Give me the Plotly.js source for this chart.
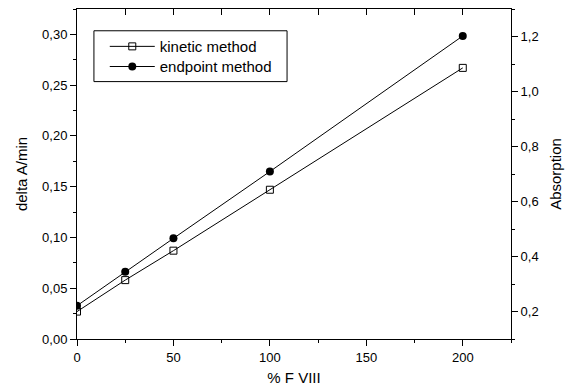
<!DOCTYPE html>
<html>
<head>
<meta charset="utf-8">
<script src="https://cdn.plot.ly/plotly-3.0.1.min.js"></script>
<style>html,body{margin:0;padding:0;background:#fff}#chart{width:567px;height:391px}</style>
</head>
<body>
<div id="chart"></div>
<script>
const percentFVIII = [0, 25, 50, 100, 200];
const kineticDeltaA = [0.027, 0.058, 0.087, 0.147, 0.267];
const endpointAbsorption = [0.221, 0.345, 0.466, 0.709, 1.202];

const FONT = 'Arial, "Liberation Sans", sans-serif';

const traces = [
  {
    x: percentFVIII, y: kineticDeltaA, name: 'kinetic method', legend: 'legend',
    type: 'scatter', mode: 'lines+markers', xaxis: 'x', yaxis: 'y',
    line: {color: '#000', width: 1},
    marker: {symbol: 'square-open', size: 7, color: '#000', line: {width: 1, color: '#000'}}
  },
  {
    x: percentFVIII, y: endpointAbsorption, name: 'endpoint method', legend: 'legend2',
    type: 'scatter', mode: 'lines+markers', xaxis: 'x2', yaxis: 'y2',
    line: {color: '#000', width: 1},
    marker: {symbol: 'circle', size: 8, color: '#000'}
  }
];

const legendBase = {
  xanchor: 'left', yanchor: 'middle',
  bgcolor: 'rgba(0,0,0,0)', borderwidth: 0,
  font: {family: FONT, size: 15, color: '#000'},
  itemwidth: 45
};

const layout = {
  width: 567, height: 391,
  margin: {l: 77, r: 56, t: 9, b: 52},
  paper_bgcolor: '#fff', plot_bgcolor: '#fff',
  separators: ',.',
  font: {family: FONT, size: 13, color: '#000'},
  showlegend: true,
  legend: Object.assign({}, legendBase, {x: 0.064, y: 0.886}),
  legend2: Object.assign({}, legendBase, {x: 0.064, y: 0.825}),
  shapes: [{
    type: 'rect', xref: 'paper', yref: 'paper',
    x0: 0.039, x1: 0.484, y0: 0.780, y1: 0.934,
    line: {color: '#000', width: 1}
  }],
  xaxis: {
    range: [0, 225], dtick: 50, tick0: 0,
    ticks: 'outside', ticklen: 6, tickwidth: 1, tickcolor: '#000',
    minor: {dtick: 25, ticks: 'outside', ticklen: 3, tickcolor: '#000'},
    showline: true, linecolor: '#000', linewidth: 1,
    showgrid: false, zeroline: false,
    tickfont: {family: FONT, size: 13},
    title: {text: '% F VIII', font: {family: FONT, size: 15}, standoff: 8},
    anchor: 'y'
  },
  xaxis2: {
    range: [0, 225], dtick: 25, tick0: 0, overlaying: 'x', side: 'top', anchor: 'y',
    ticks: 'inside', ticklen: 6, tickwidth: 1, tickcolor: '#000',
    showticklabels: false, showline: true, linecolor: '#000', linewidth: 1,
    showgrid: false, zeroline: false
  },
  yaxis: {
    range: [0, 0.325], dtick: 0.05, tick0: 0, tickformat: '.2f',
    ticks: 'outside', ticklen: 6, tickwidth: 1, tickcolor: '#000',
    minor: {dtick: 0.025, ticks: 'outside', ticklen: 3, tickcolor: '#000'},
    showline: true, linecolor: '#000', linewidth: 1,
    showgrid: false, zeroline: false,
    tickfont: {family: FONT, size: 13},
    title: {text: 'delta A/min', font: {family: FONT, size: 15}, standoff: 10},
    anchor: 'x'
  },
  yaxis2: {
    range: [0.1, 1.3], dtick: 0.2, tick0: 0, tickformat: '.1f',
    overlaying: 'y', side: 'right', anchor: 'x',
    ticks: 'outside', ticklen: 6, tickwidth: 1, tickcolor: '#000',
    minor: {dtick: 0.1, ticks: 'outside', ticklen: 3, tickcolor: '#000'},
    showline: true, linecolor: '#000', linewidth: 1,
    showgrid: false, zeroline: false,
    tickfont: {family: FONT, size: 13},
    title: {text: 'Absorption', font: {family: FONT, size: 15}, standoff: 12}
  }
};

Plotly.newPlot('chart', traces, layout, {staticPlot: true, displayModeBar: false});
</script>
</body>
</html>
